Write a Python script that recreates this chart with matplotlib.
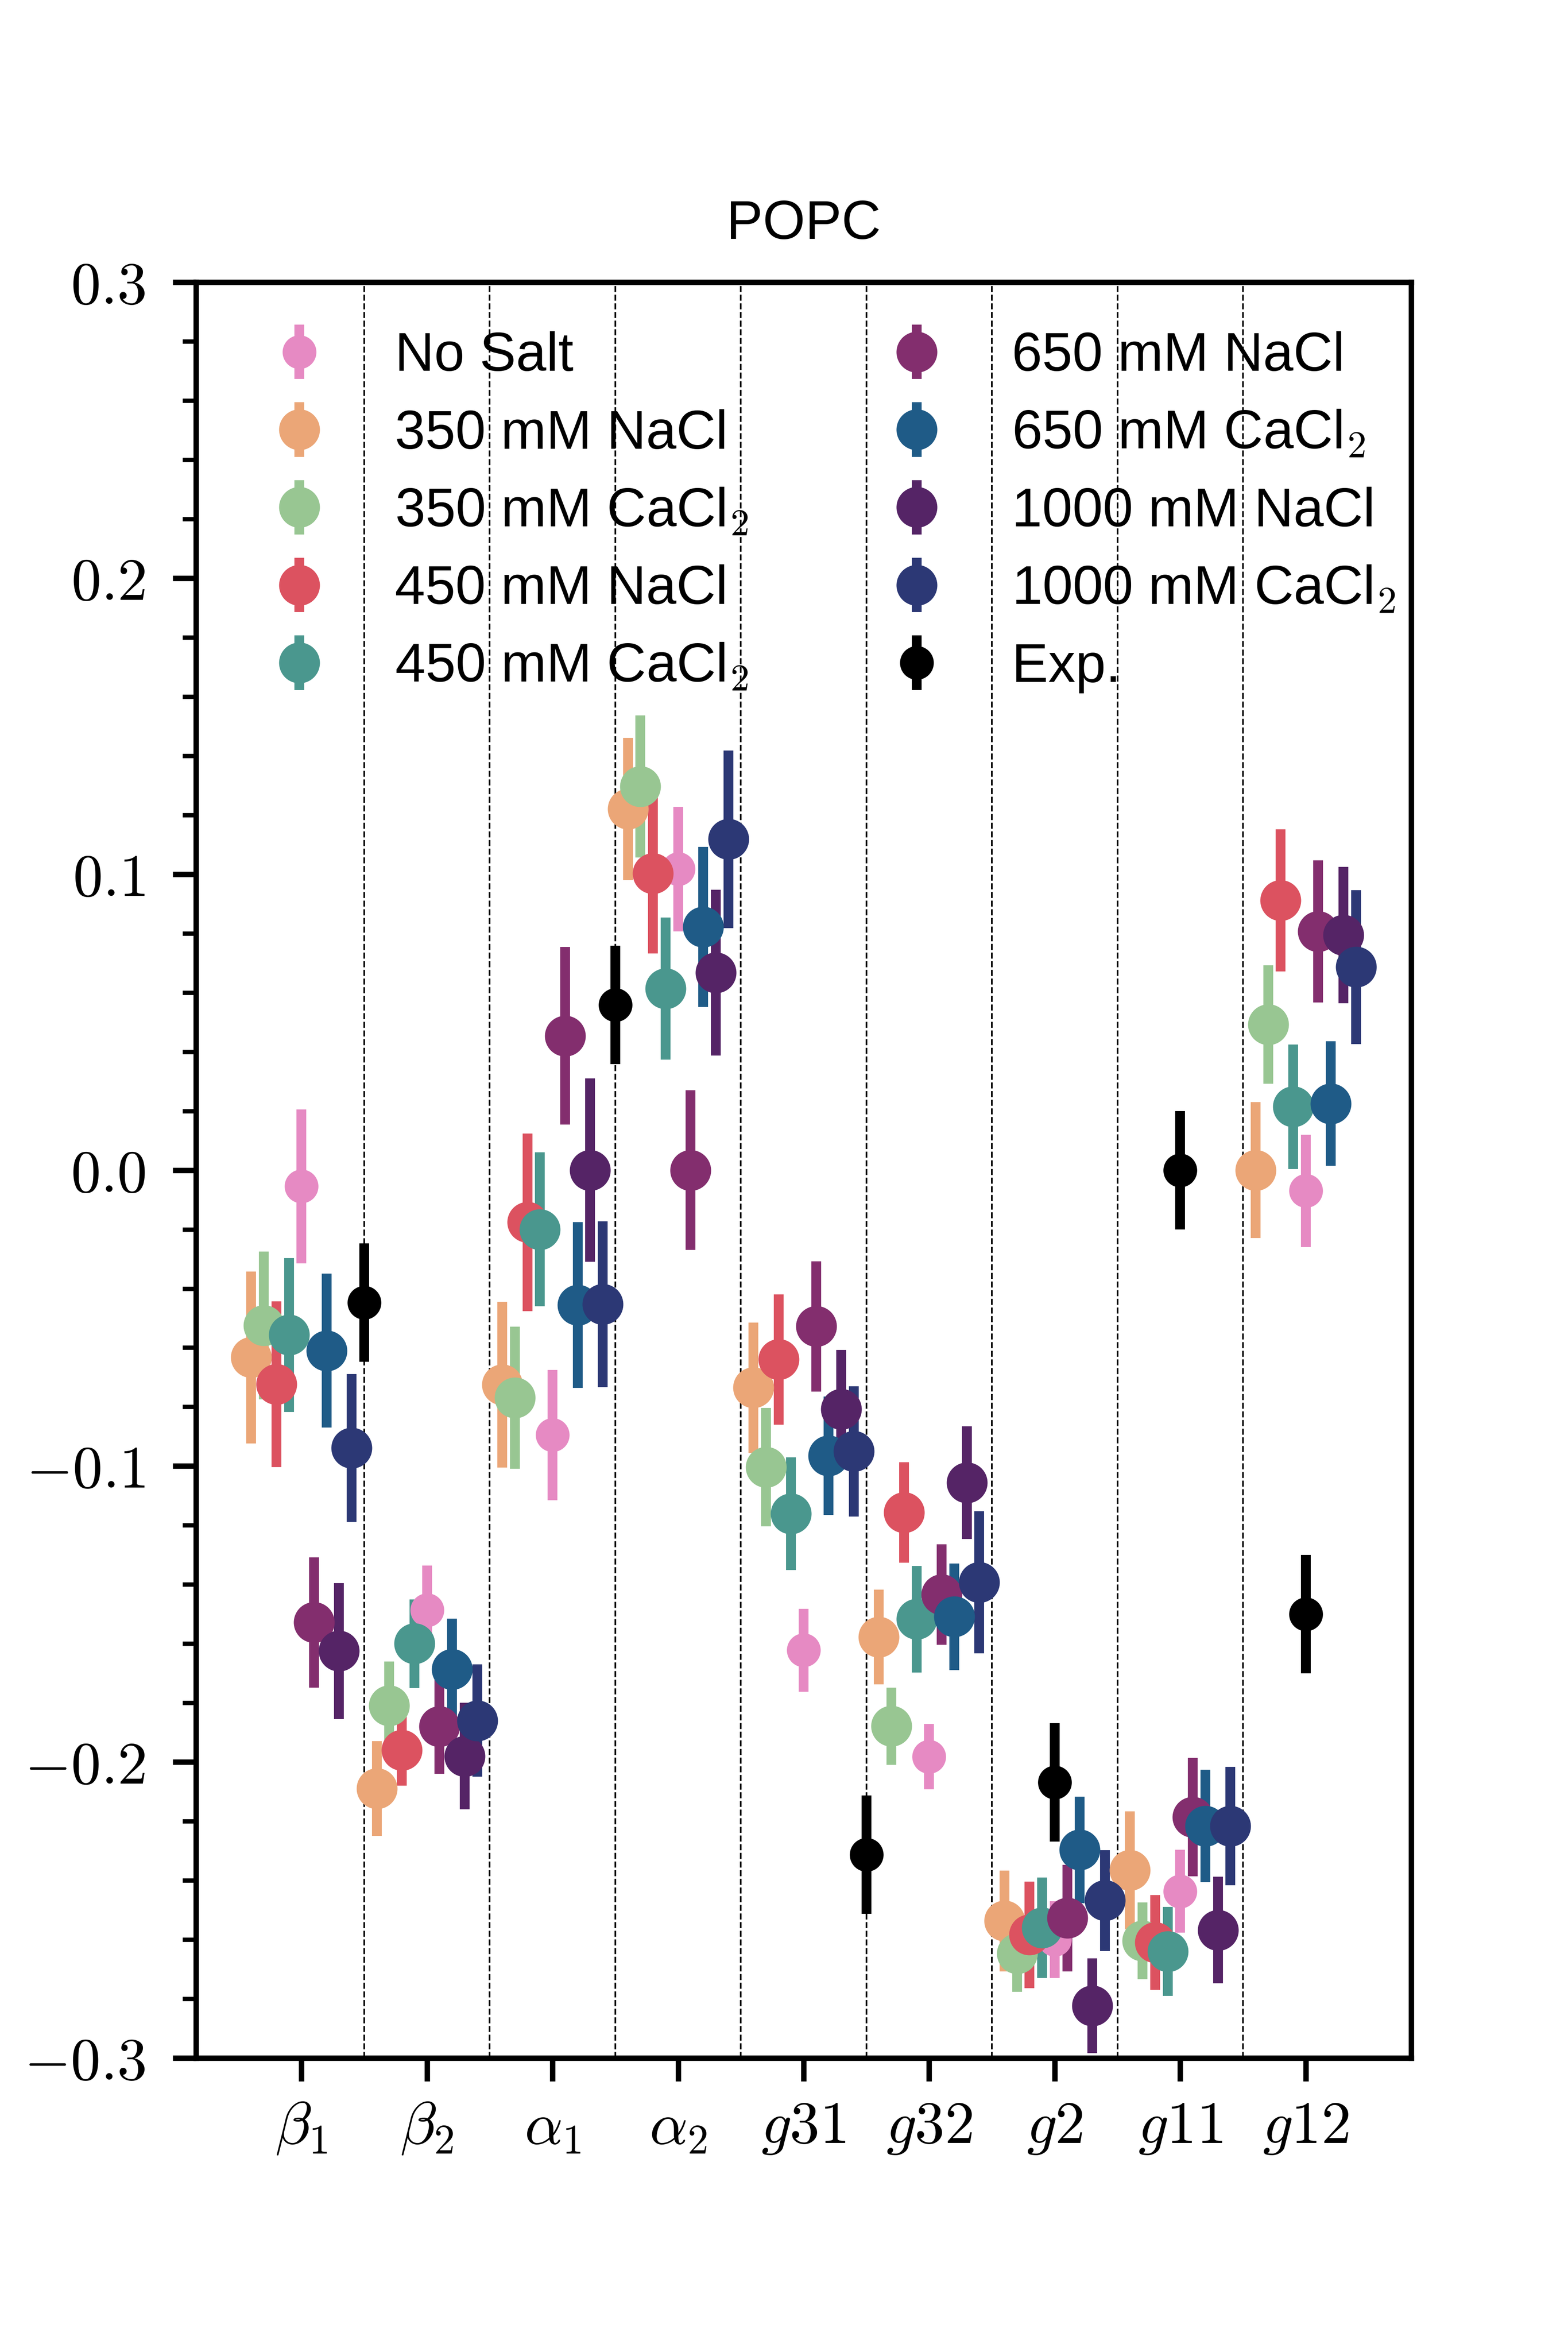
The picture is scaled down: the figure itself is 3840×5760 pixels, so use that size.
import matplotlib

matplotlib.use("Agg")
import matplotlib.pyplot as plt
import numpy as np
from matplotlib.ticker import MultipleLocator

plt.rcParams["font.family"] = ["Liberation Sans", "DejaVu Sans"]
plt.rcParams["mathtext.fontset"] = "cm"
plt.rcParams["font.size"] = 10
plt.rcParams["axes.linewidth"] = 1.0

# order parameters per carbon segment
categories = [r"$\beta_1$", r"$\beta_2$", r"$\alpha_1$", r"$\alpha_2$",
              r"$g31$", r"$g32$", r"$g2$", r"$g11$", r"$g12$"]

no_salt = [-0.0055, -0.1486, -0.0895, 0.1017, -0.1622, -0.1982, -0.260, -0.2437, -0.007]
no_salt_err = [0.026, 0.015, 0.022, 0.021, 0.014, 0.011, 0.013, 0.014, 0.019]

nacl_350 = [-0.0633, -0.209, -0.0725, 0.122, -0.0735, -0.1577, -0.2537, -0.2366, 0.0]
nacl_350_err = [0.029, 0.016, 0.028, 0.024, 0.022, 0.016, 0.017, 0.020, 0.023]

cacl2_350 = [-0.0525, -0.181, -0.0769, 0.1296, -0.1003, -0.1879, -0.2647, -0.2604, 0.0492]
cacl2_350_err = [0.025, 0.015, 0.024, 0.024, 0.020, 0.013, 0.013, 0.013, 0.020]

nacl_450 = [-0.0724, -0.196, -0.0176, 0.1002, -0.064, -0.1157, -0.2584, -0.261, 0.0911]
nacl_450_err = [0.028, 0.012, 0.030, 0.027, 0.022, 0.017, 0.018, 0.016, 0.024]

cacl2_450 = [-0.0557, -0.160, -0.020, 0.0614, -0.1161, -0.1517, -0.256, -0.264, 0.0214]
cacl2_450_err = [0.026, 0.015, 0.026, 0.024, 0.019, 0.018, 0.017, 0.015, 0.021]

nacl_650 = [-0.1528, -0.188, 0.0454, 0.0, -0.0528, -0.1434, -0.2527, -0.2186, 0.0806]
nacl_650_err = [0.022, 0.016, 0.030, 0.027, 0.022, 0.017, 0.018, 0.020, 0.024]

cacl2_650 = [-0.061, -0.1686, -0.0456, 0.0822, -0.0965, -0.1509, -0.2297, -0.2216, 0.0225]
cacl2_650_err = [0.026, 0.017, 0.028, 0.027, 0.020, 0.018, 0.018, 0.019, 0.021]

nacl_1000 = [-0.1625, -0.198, 0.0, 0.0667, -0.0808, -0.1056, -0.2823, -0.2568, 0.0794]
nacl_1000_err = [0.023, 0.018, 0.031, 0.028, 0.020, 0.019, 0.016, 0.018, 0.023]

cacl2_1000 = [-0.0939, -0.186, -0.0453, 0.1118, -0.095, -0.1393, -0.2468, -0.2216, 0.0686]
cacl2_1000_err = [0.025, 0.019, 0.028, 0.030, 0.022, 0.024, 0.017, 0.020, 0.026]

# experiment can't resolve the two hydrogens of beta, alpha, g3
exp_groups = [(0, 1), (2, 3), (4, 5), (6,), (7,), (8,)]
exp_vals = [-0.0447, 0.0558, -0.2313, -0.2069, 0.0, -0.15]
exp_err = [0.02, 0.02, 0.02, 0.02, 0.02, 0.02]

# label, values, errors, colour, dodge slot (x 0.1)
series = [
    ("No Salt", no_salt, no_salt_err, "#E68AC3", 0),
    ("350 mM NaCl", nacl_350, nacl_350_err, "#EBA677", -4),
    ("350 mM CaCl$_2$", cacl2_350, cacl2_350_err, "#98C692", -3),
    ("450 mM NaCl", nacl_450, nacl_450_err, "#DC5260", -2),
    ("450 mM CaCl$_2$", cacl2_450, cacl2_450_err, "#4A978E", -1),
    ("650 mM NaCl", nacl_650, nacl_650_err, "#832E6E", 1),
    ("650 mM CaCl$_2$", cacl2_650, cacl2_650_err, "#1F5B87", 2),
    ("1000 mM NaCl", nacl_1000, nacl_1000_err, "#552466", 3),
    ("1000 mM CaCl$_2$", cacl2_1000, cacl2_1000_err, "#2C3875", 4),
]

fig = plt.figure(figsize=(4, 6), dpi=960)
ax = fig.add_subplot(111)
fig.subplots_adjust(left=0.125, right=0.9, top=0.88, bottom=0.125)

xpos = np.arange(len(categories))
for b in xpos[:-1] + 0.5:
    ax.axvline(b, color="black", lw=0.3, ls="--", zorder=0)

for label, vals, errs, color, slot in series:
    ms = 6.2 if slot == 0 else 7.5
    ax.errorbar(xpos + 0.1 * slot, vals, yerr=errs, fmt="o", color=color,
                ms=ms, mec=color, mew=0, elinewidth=1.8, capsize=0, label=label)

exp_x = [np.mean(g) for g in exp_groups]
ax.errorbar(exp_x, exp_vals, yerr=exp_err, fmt="o", color="black", ms=6.2,
            mew=0, elinewidth=1.8, capsize=0, label="Exp.")

ax.set_ylim(-0.3, 0.3)
yticks = np.arange(-0.3, 0.31, 0.1)
ax.set_yticks(yticks)
ax.set_yticklabels([f"${v:.1f}$" if abs(v) > 1e-9 else "$0.0$" for v in yticks])
ax.yaxis.set_minor_locator(MultipleLocator(0.02))
ax.set_xticks(xpos)
ax.set_xticklabels(categories)
ax.tick_params(axis="both", which="major", length=4.3, width=1.0, labelsize=11)
ax.tick_params(axis="y", which="major", pad=5)
ax.tick_params(axis="y", which="minor", length=2.5, width=0.8)

ax.set_title("POPC", fontsize=10, pad=8)
ax.legend(ncol=2, loc="upper left", frameon=False, fontsize=10,
          labelspacing=0.49, handletextpad=0.75, columnspacing=2.1)

fig.savefig("out.png", dpi=960)
